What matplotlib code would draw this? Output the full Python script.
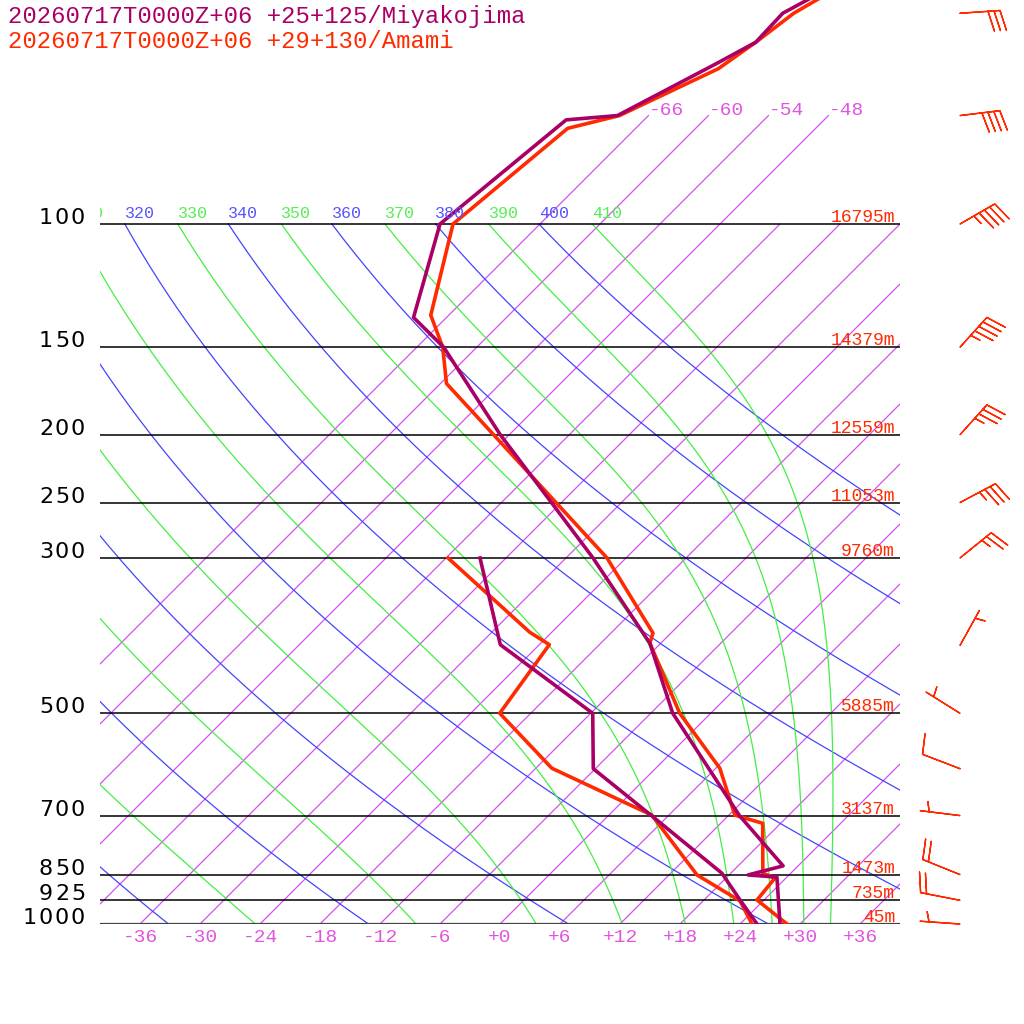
import numpy as np
import matplotlib
matplotlib.use("Agg")
import matplotlib.pyplot as plt

# --- sounding data ---
miy_label = "20260717T0000Z+06 +25+125/Miyakojima"
ama_label = "20260717T0000Z+06 +29+130/Amami"

miy_t_p = [45, 50, 55, 59, 70, 71, 100, 136, 150, 200, 250, 300, 397, 500, 700, 826, 851, 857, 1000]
miy_t = [-60.1, -62.8, -62.6, -64.4, -69.1, -73.8, -76.0, -69.3, -63.3, -48.9, -37.0, -27.3,
         -13.1, -3.8, 13.1, 22.5, 19.9, 23.0, 28.0]
miy_td_p = [300, 399, 500, 600, 700, 846, 924, 1000]
miy_td = [-38.6, -27.9, -11.8, -6.2, 4.3, 17.1, 21.6, 25.7]

ama_t_p = [45, 50, 55, 60, 70, 73, 100, 135, 150, 169, 300, 384, 397, 500, 599, 699, 718,
           846, 860, 924, 1000]
ama_t = [-59.4, -61.7, -62.6, -63.7, -68.9, -72.8, -74.7, -67.8, -63.4, -59.4, -25.9, -13.8,
         -13.1, -3.1, 6.4, 12.6, 16.2, 21.2, 22.9, 23.3, 28.7]
ama_td_p = [300, 383, 399, 500, 599, 699, 851, 927, 1000]
ama_td = [-41.8, -26.2, -23.0, -21.1, -10.4, 4.3, 14.8, 21.7, 25.2]

level_p = [1000, 925, 850, 700, 500, 300, 250, 200, 150, 100]
level_hgt = [45, 735, 1473, 3137, 5885, 9760, 11053, 12559, 14379, 16795]

wind_p = [50, 70, 100, 150, 200, 250, 300, 400, 500, 600, 700, 850, 925, 1000]
wind_dir = [86, 83, 60, 42, 42, 62, 51, 29, 302, 291, 277, 292, 281, 274]
wind_spd = [30, 40, 45, 45, 35, 35, 25, 5, 5, 10, 5, 20, 20, 5]

iso_temps = list(range(-66, 37, 6))
iso_top_temps = [-66, -60, -54, -48]
iso_bottom_temps = list(range(-36, 37, 6))
dry_thetas = list(range(240, 401, 20))
moist_thetas = list(range(250, 411, 20))

MIY = "#aa0066"
AMA = "#ff2a00"
ISO = "#d450ee"
ISO_TXT = "#e055e0"
DRY = "#4444ff"
MOIST = "#44ee44"

SKEW = 70.0
PTOP = 1000 / 10 ** (924 / 700)


def skx(t, p):
    return np.asarray(t, dtype=float) + SKEW * np.log10(1000.0 / np.asarray(p, dtype=float))


def moist_line(theta, plev):
    rd, cp, lv, eps = 287.04, 1004.7, 2.501e6, 0.622

    def f(t, lnp):
        p = np.exp(lnp)
        tc = t - 273.15
        es = 6.112 * np.exp(17.67 * tc / (tc + 243.5))
        rs = eps * es / (p - es)
        return (rd * t + lv * rs) / (cp + lv * lv * rs * eps / (rd * t * t))

    lnps = np.log(plev)
    t = theta * (plev[0] / 1000.0) ** (rd / cp)
    out = [t]
    for i in range(len(lnps) - 1):
        h = lnps[i + 1] - lnps[i]
        x = lnps[i]
        k1 = f(t, x)
        k2 = f(t + h * k1 / 2, x + h / 2)
        k3 = f(t + h * k2 / 2, x + h / 2)
        k4 = f(t + h * k3, x + h)
        t = t + h * (k1 + 2 * k2 + 2 * k3 + k4) / 6
        out.append(t)
    return np.array(out) - 273.15


def theta_label(ax, th, x, color):
    # skip labels that would sit entirely left of the plot
    if x < -44:
        return
    ax.annotate(str(th), xy=(x, 100), xytext=(0, 6), textcoords="offset pixels",
                ha="left", va="baseline", color=color, fontsize=12,
                family="Liberation Mono", clip_on=True, annotation_clip=False)


fig = plt.figure(figsize=(10.24, 10.24), dpi=100)
ax = fig.add_axes([100 / 1024, 100 / 1024, 800 / 1024, 924 / 1024])
ax.set_yscale("log")
ax.set_xlim(-40, 40)
ax.set_ylim(1000, PTOP)
ax.axis("off")

plev = np.logspace(2, 3, 200)

# isotherms
for t in iso_temps:
    ptop = 70 if t in iso_top_temps else 100
    pp = np.array([1000, ptop])
    ax.plot(skx([t, t], pp), pp, color=ISO, lw=0.9)
for t in iso_bottom_temps:
    ax.text(t, 1044, f"{t:+d}", ha="center", va="center",
            color=ISO_TXT, fontsize=14, family="Liberation Mono", clip_on=False)
for t in iso_top_temps:
    ax.text(skx(t, 70), 68.8, f"{t}", ha="left", va="center", color=ISO_TXT,
            fontsize=14, family="Liberation Mono")

# dry adiabats
for th in dry_thetas:
    tt = th * (plev / 1000.0) ** 0.286 - 273.15
    ax.plot(skx(tt, plev), plev, color=DRY, lw=0.9)
    theta_label(ax, th, skx(tt[0], 100), "#5555ff")

# moist adiabats
for th in moist_thetas:
    tt = moist_line(th, plev)
    ax.plot(skx(tt, plev), plev, color=MOIST, lw=0.9)
    theta_label(ax, th, skx(tt[0], 100), "#55ee55")

# pressure levels
for p, z in zip(level_p, level_hgt):
    if p == 1000:
        ax.axhline(p, color="#444444", lw=1.6)
    else:
        ax.axhline(p, color="black", lw=1.1)
    s = str(p)
    for i, ch in enumerate(reversed(s)):
        ax.annotate(ch, xy=(-40, p), xytext=(-22 - 16 * i, 0), textcoords="offset pixels",
                    ha="center", va="baseline", fontsize=16, family="DejaVu Sans",
                    annotation_clip=False)
    ax.annotate(f"{z}m", xy=(39.5, p), xytext=(0, 2), textcoords="offset pixels",
                ha="right", va="baseline", color=AMA, fontsize=13, family="Liberation Mono")

# soundings
ax.plot(skx(ama_t, ama_t_p), ama_t_p, color=AMA, lw=2.6)
ax.plot(skx(ama_td, ama_td_p), ama_td_p, color=AMA, lw=2.6)
ax.plot(skx(miy_t, miy_t_p), miy_t_p, color=MIY, lw=2.6)
ax.plot(skx(miy_td, miy_td_p), miy_td_p, color=MIY, lw=2.6)

# wind barbs
wd = np.radians(wind_dir)
u = -np.array(wind_spd) * np.sin(wd)
v = -np.array(wind_spd) * np.cos(wd)
b = ax.barbs(np.full(len(wind_p), 46.0), wind_p, u, v, length=7.6, color=AMA, linewidth=1.0,
             sizes=dict(height=0.5, spacing=0.15))
b.set_clip_on(False)

fig.text(8 / 1024, 1 - 17 / 1024, miy_label, color=MIY, fontsize=17.2,
         family="Liberation Mono", va="center", ha="left")
fig.text(8 / 1024, 1 - 41 / 1024, ama_label, color=AMA, fontsize=17.2,
         family="Liberation Mono", va="center", ha="left")

fig.savefig("out.png", dpi=100)
